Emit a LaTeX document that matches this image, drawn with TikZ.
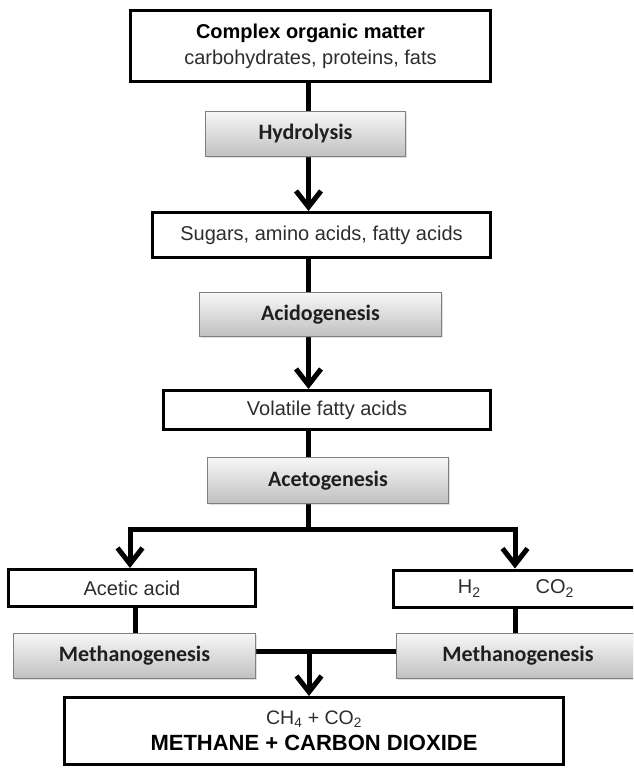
\documentclass[tikz,border=0pt]{standalone}
\usepackage{fontspec}
\setmainfont{Liberation Sans}
\newfontfamily\carlitofont{Carlito}
\usetikzlibrary{arrows.meta,backgrounds,shadows}
\definecolor{gtop}{RGB}{247,247,247}
\definecolor{gbot}{RGB}{192,192,192}
\definecolor{gedge}{RGB}{128,128,128}
\definecolor{txt}{RGB}{45,45,45}
\begin{document}
\begin{tikzpicture}[x=1pt,y=-1pt,
  wbox/.style={draw=black, line width=3pt, fill=white, inner sep=0pt,
    font=\fontsize{20}{26}\selectfont, text=txt, align=center},
  gbox/.style={draw=gedge, line width=1.2pt, top color=gtop, bottom color=gbot,
    inner sep=0pt, font=\carlitofont\bfseries\fontsize{22}{26}\selectfont, text=black!88,
    drop shadow={shadow xshift=1.2pt, shadow yshift=-1.2pt, opacity=0.25}},
  conn/.style={line width=5pt},
  arr/.style={conn, -{Straight Barb[length=16pt,width=25pt]}}
]
\useasboundingbox (0,0) rectangle (633,768);
\clip (0,0) rectangle (633,768);

\node[wbox, minimum width=360pt, minimum height=71pt] (top) at (310.5,46)
  {{\color{black}\bfseries Complex organic matter}\\carbohydrates, proteins, fats};
\node[gbox, minimum width=200pt, minimum height=45pt] (hyd) at (305.5,134) {Hydrolysis};
\node[wbox, minimum width=338pt, minimum height=45pt] (sug) at (321.5,235) {Sugars, amino acids, fatty acids};
\node[gbox, minimum width=242pt, minimum height=44pt] (acid) at (320.5,314.5) {Acidogenesis};
\node[wbox, minimum width=327pt, minimum height=39pt] (vfa) at (327,410) {Volatile fatty acids};
\node[gbox, minimum width=241pt, minimum height=46pt] (aceto) at (328,480.5) {Acetogenesis};
\node[wbox, minimum width=247pt, minimum height=37pt] (acetic) at (132,588) {Acetic acid};
\node[wbox, minimum width=245pt, minimum height=37pt] (hco) at (516,588.5) {H\textsubscript{2}\hspace{55pt}CO\textsubscript{2}};
\node[gbox, minimum width=242pt, minimum height=45pt] (mL) at (134.5,656) {Methanogenesis};
\node[gbox, minimum width=243pt, minimum height=45pt] (mR) at (518,656) {Methanogenesis};
\node[wbox, minimum width=499pt, minimum height=67pt] (fin) at (314,731)
  {{\fontsize{19.5}{26}\selectfont CH\textsubscript{4} + CO\textsubscript{2}}\\
   {\color{black}\bfseries\fontsize{22}{26}\selectfont METHANE + CARBON DIOXIDE}};

\coordinate (cx) at (308.5,0);
\coordinate (jn) at (308.5,529);
\coordinate (jl) at (130,529);
\coordinate (jr) at (515,529);
\coordinate (cl) at (135,0);
\coordinate (mj) at (309,651);

\begin{scope}[on background layer]
\draw[arr] (top.south -| cx) -- (sug.north -| cx);
\draw[arr] (sug.south -| cx) -- (vfa.north -| cx);
\draw[arr] (vfa.south -| cx) -- (jn) -| (acetic.north -| jl);
\draw[arr] (jn) -| (hco.north -| jr);
\draw[conn] (acetic.south -| cl) -- (mL.north -| cl);
\draw[conn] (hco.south -| jr) -- (mR.north -| jr);
\draw[conn] (mL.east |- mj) -- (mR.west |- mj);
\draw[arr] (mj) -- (fin.north -| mj);
\end{scope}
\end{tikzpicture}
\end{document}
